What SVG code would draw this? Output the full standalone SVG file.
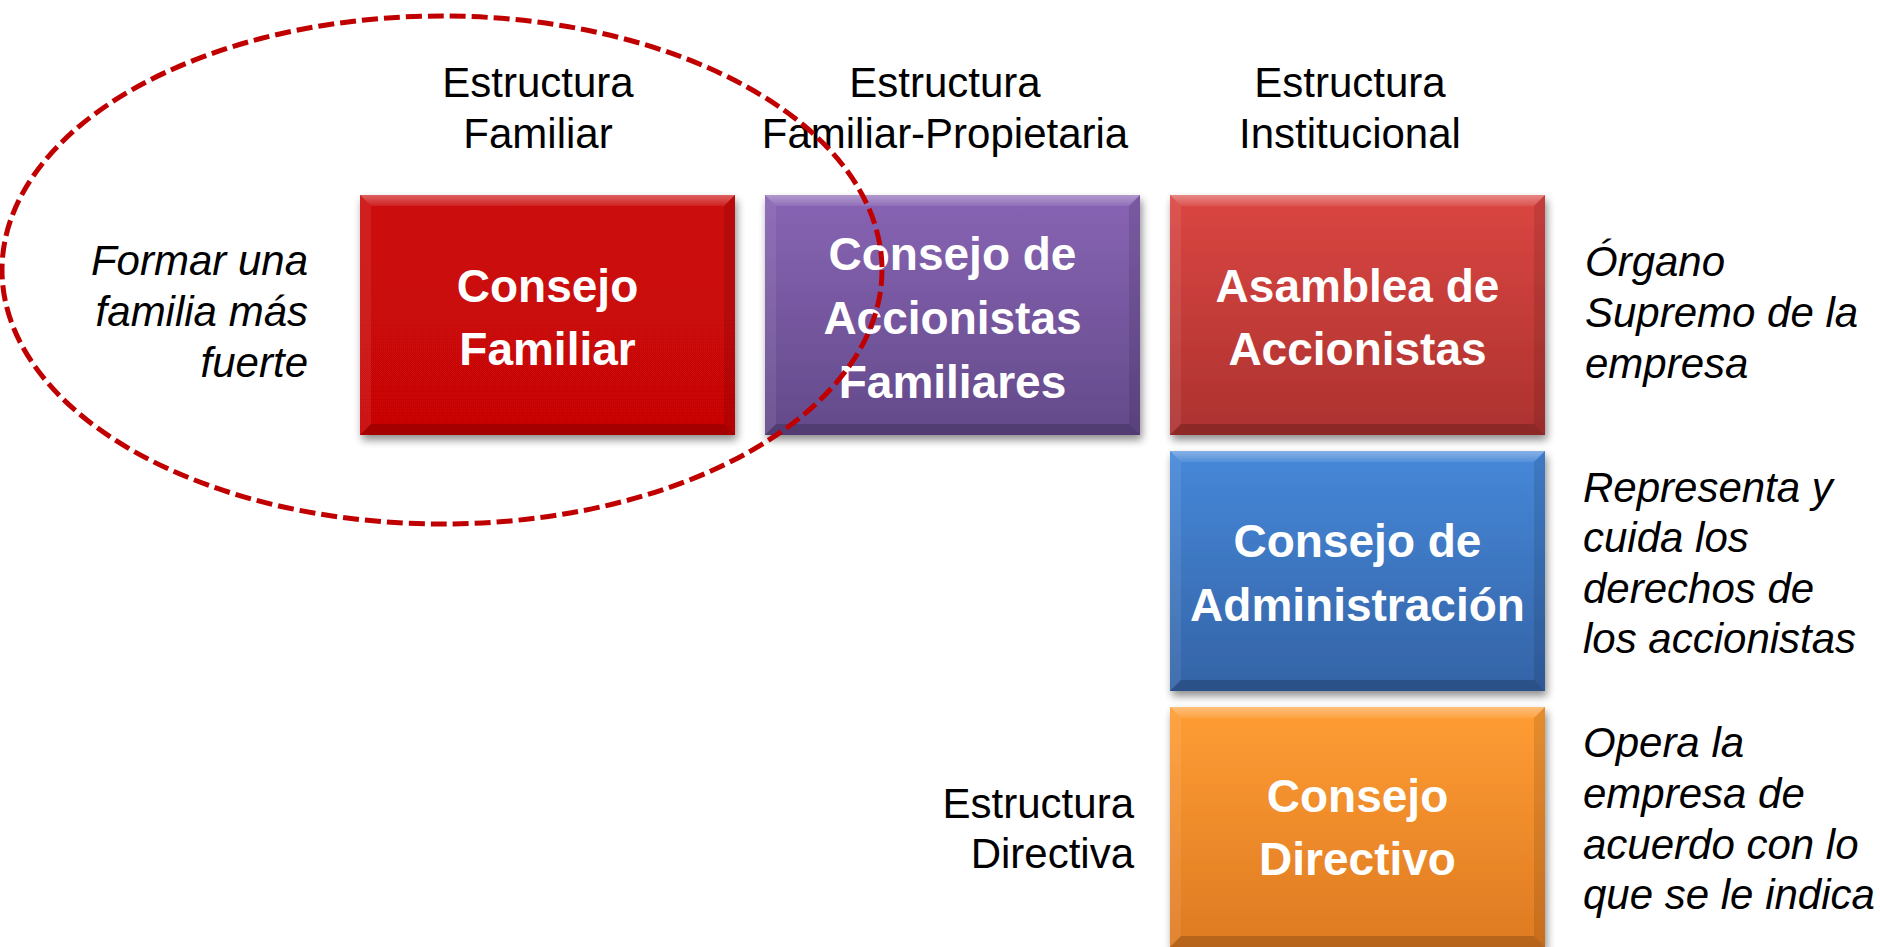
<svg xmlns="http://www.w3.org/2000/svg" xmlns:xlink="http://www.w3.org/1999/xlink" width="1880" height="947" viewBox="0 0 1880 947">
<style>
.hdr{font-family:"Liberation Sans",Arial,sans-serif;font-size:42px;fill:#000;text-anchor:middle}
.side{font-family:"Liberation Sans",Arial,sans-serif;font-size:42px;fill:#000;font-style:italic}
.dir{font-family:"Liberation Sans",Arial,sans-serif;font-size:42px;fill:#000;text-anchor:end}
.box{font-family:"Liberation Sans",Arial,sans-serif;font-size:46px;font-weight:bold;fill:#fff;text-anchor:middle}
</style>
<defs>
<linearGradient id="gRed" x1="0" y1="0" x2="0" y2="1"><stop offset="0" stop-color="#CC0808"/><stop offset="1" stop-color="#C80606"/></linearGradient>
<linearGradient id="gPur" x1="0" y1="0" x2="0" y2="1"><stop offset="0" stop-color="#8864B4"/><stop offset="1" stop-color="#634A8A"/></linearGradient>
<linearGradient id="gAsa" x1="0" y1="0" x2="0" y2="1"><stop offset="0" stop-color="#DB4642"/><stop offset="1" stop-color="#AC322F"/></linearGradient>
<linearGradient id="gBlu" x1="0" y1="0" x2="0" y2="1"><stop offset="0" stop-color="#4688D9"/><stop offset="1" stop-color="#3463A6"/></linearGradient>
<linearGradient id="gOra" x1="0" y1="0" x2="0" y2="1"><stop offset="0" stop-color="#FF9D34"/><stop offset="1" stop-color="#DE7A22"/></linearGradient>
<linearGradient id="gTop" x1="0" y1="0" x2="0" y2="1"><stop offset="0" stop-color="#fff" stop-opacity="0.35"/><stop offset="1" stop-color="#fff" stop-opacity="0.08"/></linearGradient>
<filter id="shadow" x="-10%" y="-10%" width="120%" height="125%">
<feGaussianBlur in="SourceAlpha" stdDeviation="4"/>
<feOffset dx="2" dy="5" result="b"/>
<feComponentTransfer><feFuncA type="linear" slope="0.45"/></feComponentTransfer>
<feMerge><feMergeNode/><feMergeNode in="SourceGraphic"/></feMerge>
</filter>
<symbol id="bevel" overflow="visible">
<polygon points="0,0 375,0 364,11 11,11" fill="url(#gTop)"/>
<polygon points="0,0 11,11 11,229 0,240" fill="#fff" fill-opacity="0.08"/>
<polygon points="375,0 375,240 364,229 364,11" fill="#000" fill-opacity="0.1"/>
<polygon points="0,240 11,229 364,229 375,240" fill="#000" fill-opacity="0.18"/>
</symbol>
</defs>
<rect width="1880" height="947" fill="#fff"/>

<g id="headers">
<text class="hdr" x="538" y="97">Estructura</text>
<text class="hdr" x="538" y="148">Familiar</text>
<text class="hdr" x="945" y="97">Estructura</text>
<text class="hdr" x="945" y="148">Familiar-Propietaria</text>
<text class="hdr" x="1350" y="97">Estructura</text>
<text class="hdr" x="1350" y="148">Institucional</text>
</g>

<g id="left-note">
<text class="side" text-anchor="end" x="308" y="275">Formar una</text>
<text class="side" text-anchor="end" x="308" y="326">familia más</text>
<text class="side" text-anchor="end" x="308" y="377">fuerte</text>
</g>

<g id="consejo-familiar">
<g filter="url(#shadow)"><rect x="360" y="195" width="375" height="240" fill="url(#gRed)"/></g>
<use xlink:href="#bevel" x="360" y="195"/>
<text class="box" x="547.5" y="302">Consejo</text>
<text class="box" x="547.5" y="365">Familiar</text>
</g>

<g id="consejo-accionistas-familiares">
<g filter="url(#shadow)"><rect x="765" y="195" width="375" height="240" fill="url(#gPur)"/></g>
<use xlink:href="#bevel" x="765" y="195"/>
<text class="box" x="952.5" y="270">Consejo de</text>
<text class="box" x="952.5" y="334">Accionistas</text>
<text class="box" x="952.5" y="398">Familiares</text>
</g>

<g id="asamblea">
<g filter="url(#shadow)"><rect x="1170" y="195" width="375" height="240" fill="url(#gAsa)"/></g>
<use xlink:href="#bevel" x="1170" y="195"/>
<text class="box" x="1357.5" y="302">Asamblea de</text>
<text class="box" x="1357.5" y="365">Accionistas</text>
</g>

<g id="consejo-administracion">
<g filter="url(#shadow)"><rect x="1170" y="451" width="375" height="240" fill="url(#gBlu)"/></g>
<use xlink:href="#bevel" x="1170" y="451"/>
<text class="box" x="1357.5" y="557">Consejo de</text>
<text class="box" x="1357.5" y="621">Administración</text>
</g>

<g id="consejo-directivo">
<g filter="url(#shadow)"><rect x="1170" y="707" width="375" height="240" fill="url(#gOra)"/></g>
<use xlink:href="#bevel" x="1170" y="707"/>
<text class="box" x="1357.5" y="812">Consejo</text>
<text class="box" x="1357.5" y="875">Directivo</text>
</g>

<g id="estructura-directiva">
<text class="dir" x="1134" y="818">Estructura</text>
<text class="dir" x="1134" y="868">Directiva</text>
</g>

<g id="right-notes">
<text class="side" x="1585" y="276">Órgano</text>
<text class="side" x="1585" y="327">Supremo de la</text>
<text class="side" x="1585" y="378">empresa</text>
<text class="side" x="1583" y="502">Representa y</text>
<text class="side" x="1583" y="552">cuida los</text>
<text class="side" x="1583" y="603">derechos de</text>
<text class="side" x="1583" y="653">los accionistas</text>
<text class="side" x="1583" y="757">Opera la</text>
<text class="side" x="1583" y="808">empresa de</text>
<text class="side" x="1583" y="859">acuerdo con lo</text>
<text class="side" x="1583" y="909">que se le indica</text>
</g>

<g id="connectors">
<ellipse cx="442" cy="270" rx="440" ry="254" fill="none" stroke="#C00000" stroke-width="5" stroke-dasharray="16 6"/>
</g>
</svg>
